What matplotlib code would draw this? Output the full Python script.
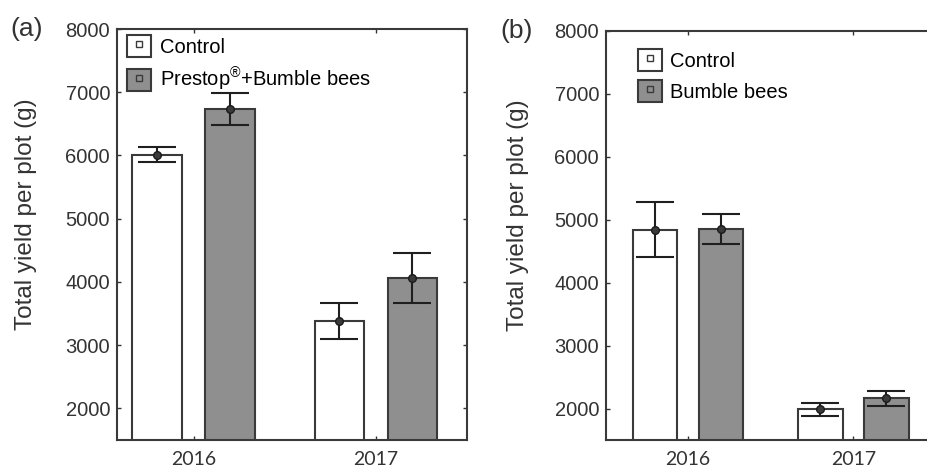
import numpy as np
import matplotlib
matplotlib.use('Agg')
from matplotlib import pyplot as plt
from matplotlib.patches import Patch
from matplotlib.lines import Line2D

plt.rcParams['font.family'] = ['Liberation Sans', 'DejaVu Sans']
plt.rcParams['mathtext.fontset'] = 'custom'
plt.rcParams['mathtext.rm'] = 'Liberation Sans'

years = ['2016', '2017']

# panel (a)
a_control = [6010, 3380]
a_control_err = [120, 290]
a_treat = [6730, 4060]
a_treat_err = [255, 390]
a_labels = ['Control', 'Prestop$^{\\rm \u00ae}$+Bumble bees']

# panel (b)
b_control = [4840, 1985]
b_control_err = [435, 105]
b_treat = [4850, 2165]
b_treat_err = [235, 120]
b_labels = ['Control', 'Bumble bees']

edge = '#3a3a3a'
grey = '#8f8f8f'
txt = '#333333'
x = np.arange(len(years))
width = 0.27
off = 0.2

fig = plt.figure(figsize=(9.28, 4.71), dpi=100)
ax1 = fig.add_axes([117 / 928, 31 / 471, 350 / 928, 411 / 471])
ax2 = fig.add_axes([606 / 928, 31 / 471, 330 / 928, 409 / 471])


def panel(ax, ctrl, ctrl_err, trt, trt_err, labels, xlim, tag, tag_x, label_x, legend_pos):
    ax.bar(x - off, ctrl, width, color='white', edgecolor=edge, linewidth=1.5, zorder=2)
    ax.bar(x + off, trt, width, color=grey, edgecolor=edge, linewidth=1.5, zorder=2)
    for xs, vals, errs in [(x - off, ctrl, ctrl_err), (x + off, trt, trt_err)]:
        ax.errorbar(xs, vals, yerr=errs, fmt='o', ms=5.5, color='#1a1a1a',
                    mfc='#3a3a3a', ecolor='#1f1f1f', elinewidth=1.5,
                    capsize=14, capthick=1.5, zorder=3)
    ax.set_xlim(*xlim)
    ax.set_ylim(1500, 8000)
    ax.set_yticks(np.arange(2000, 8001, 1000))
    ax.set_xticks(x)
    ax.set_xticklabels(years, fontsize=14, family=['Lato', 'DejaVu Sans'])
    ax.tick_params(axis='y', labelsize=14.5, pad=5, colors=txt)
    ax.tick_params(axis='x', pad=8, colors=txt)
    ax.tick_params(direction='in', length=3, width=1, top=True, right=True)
    for s in ax.spines.values():
        s.set_color(edge)
        s.set_linewidth(1.5)
    ax.set_ylabel('Total yield per plot (g)', fontsize=17.5, color=txt)
    ax.yaxis.set_label_coords(label_x, 0.55)
    ax.text(tag_x, 1.0, tag, transform=ax.transAxes,
            fontsize=19, color=txt, ha='left', va='center')
    handles = [
        (Patch(fc='white', ec=edge, lw=1.5),
         Line2D([], [], marker='s', ls='', ms=5, mfc='none', mec=edge)),
        (Patch(fc=grey, ec=edge, lw=1.5),
         Line2D([], [], marker='s', ls='', ms=5, mfc='none', mec=edge)),
    ]
    ax.legend(handles, labels, loc='upper left', bbox_to_anchor=legend_pos,
              frameon=False, fontsize=14.5, handlelength=1.2, handleheight=1.3,
              handletextpad=0.4, labelspacing=0.45, borderaxespad=0.2)


panel(ax1, a_control, a_control_err, a_treat, a_treat_err, a_labels,
      (-0.42, 1.5), '(a)', -0.305, -0.23, (-0.005, 1.015))
panel(ax2, b_control, b_control_err, b_treat, b_treat_err, b_labels,
      (-0.497, 1.5), '(b)', -0.32, -0.232, (0.06, 0.985))

fig.savefig('out.png', dpi=100)
